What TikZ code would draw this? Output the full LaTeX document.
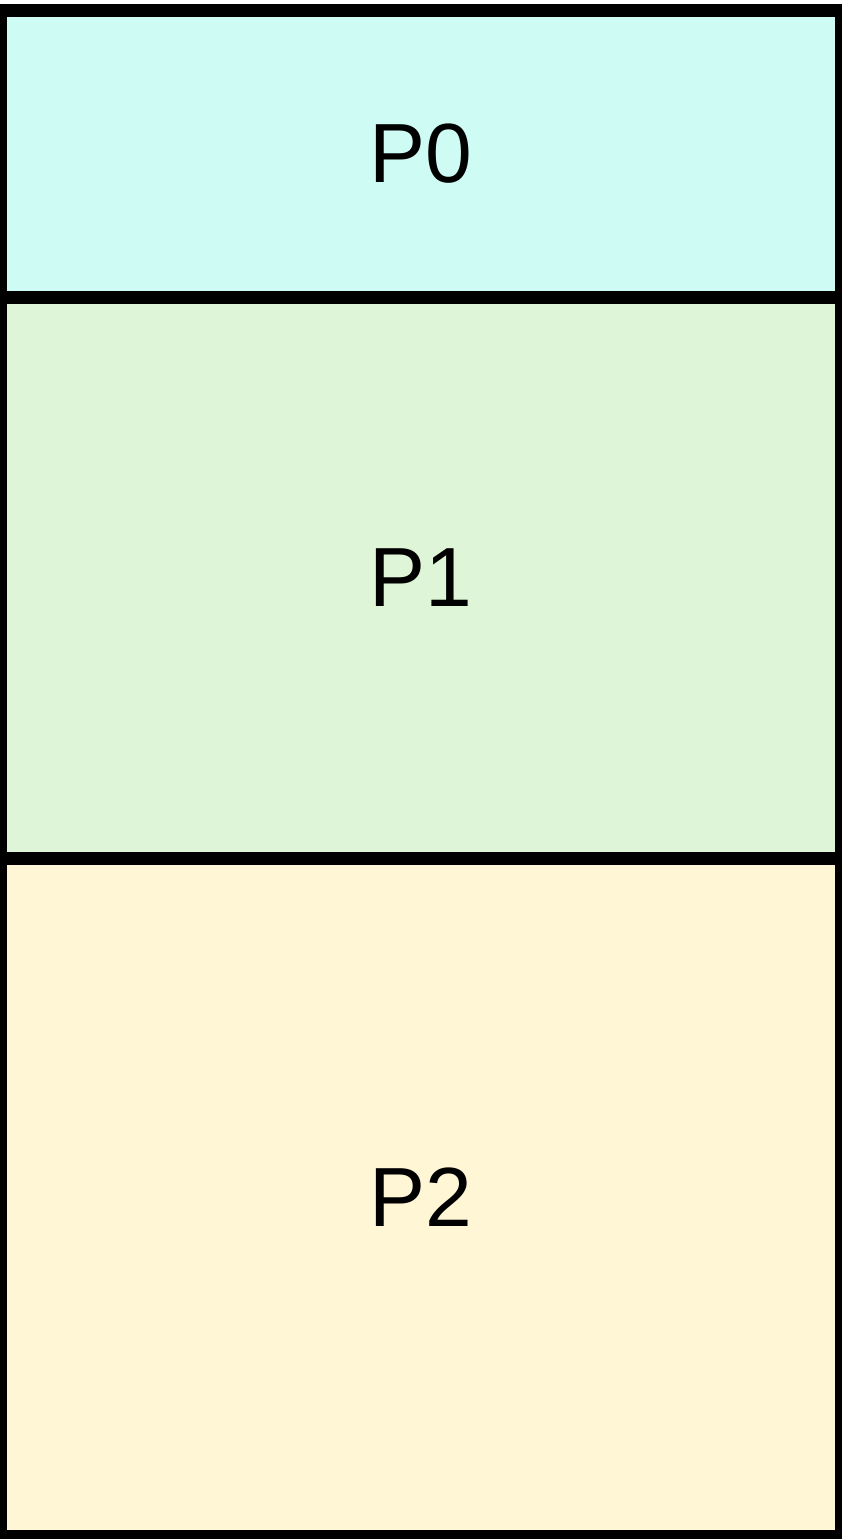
\documentclass[tikz,border=0pt]{standalone}
\usepackage{fontspec}
\setmainfont{Liberation Sans}
\usetikzlibrary{positioning}
\definecolor{ptcyan}{RGB}{207,251,245}
\definecolor{ptgreen}{RGB}{223,245,215}
\definecolor{ptcream}{RGB}{255,246,214}
\tikzset{
  part/.style={draw=black, line width=13pt, outer sep=0pt, inner sep=0pt,
    minimum width=841pt, font=\fontsize{84}{100}\selectfont},
}

\begin{document}
\begin{tikzpicture}[x=1pt,y=-1pt]
\useasboundingbox (0,0) rectangle (841,1539);
\node[part, fill=ptcyan, minimum height=287pt, anchor=north west] (p0) at (0.5,10.5) {P0};
\node[part, fill=ptgreen, minimum height=560.5pt, below=0pt of p0] (p1) {P1};
\node[part, fill=ptcream, minimum height=678.5pt, below=0pt of p1] (p2) {P2};
\end{tikzpicture}
\end{document}
